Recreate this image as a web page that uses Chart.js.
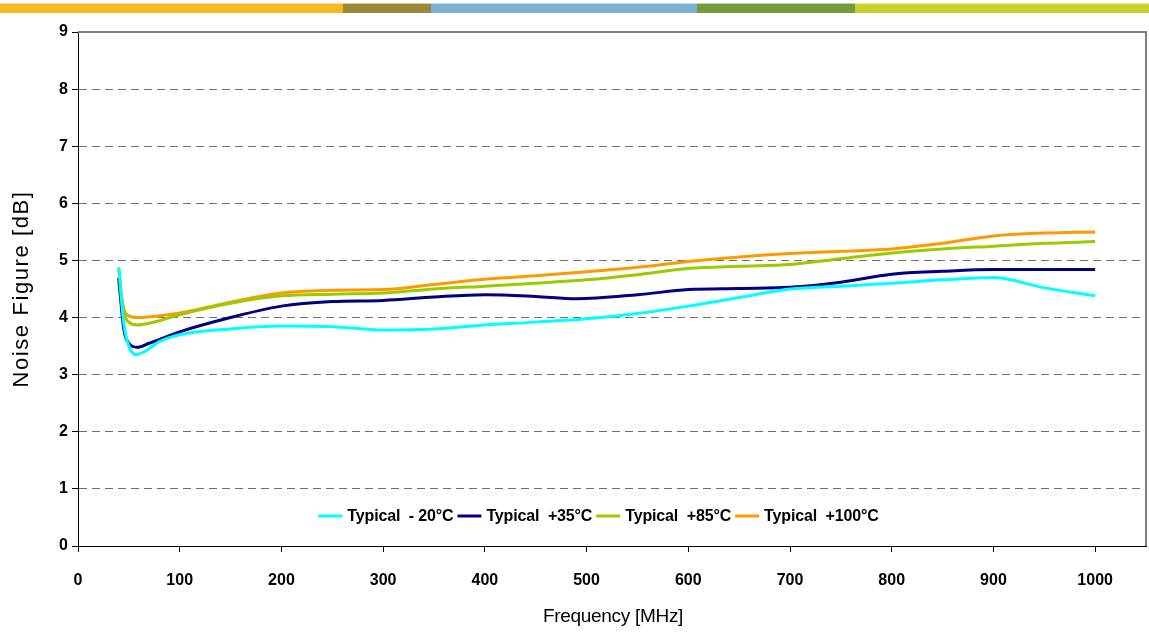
<!DOCTYPE html>
<html>
<head>
<meta charset="utf-8">
<script src="https://cdn.jsdelivr.net/npm/chart.js@4.4.0/dist/chart.umd.min.js"></script>
<style>
html,body{margin:0;padding:0;background:#fff;}
#wrap{position:relative;width:1149px;height:636px;}
</style>
</head>
<body>
<div id="wrap"><canvas id="c" width="1149" height="636"></canvas></div>
<script>
const seriesLabels = ["Typical  - 20\u00B0C", "Typical  +35\u00B0C", "Typical  +85\u00B0C", "Typical  +100\u00B0C"];
const seriesColors = ["#00FFFF", "#000080", "#99CC00", "#FF9900"];

const freqM20 = [40,45,50,57,65,80,100,150,200,250,300,350,400,450,500,550,600,650,700,750,800,850,900,950,1000];
const nfM20   = [4.87,3.9,3.5,3.35,3.4,3.58,3.7,3.8,3.85,3.84,3.78,3.8,3.87,3.92,3.98,4.07,4.2,4.35,4.5,4.55,4.6,4.66,4.7,4.52,4.38];

const freqP35 = [40,45,50,58,70,100,150,200,250,300,350,400,450,490,550,600,650,700,750,800,850,900,1000];
const nfP35   = [4.7,3.8,3.55,3.48,3.55,3.75,4.0,4.2,4.28,4.3,4.36,4.4,4.37,4.33,4.4,4.49,4.51,4.53,4.62,4.76,4.81,4.84,4.84];

const freqP85 = [40,45,50,58,70,100,150,200,250,300,350,400,450,500,550,600,650,700,750,800,850,900,950,1000];
const nfP85   = [4.88,4.1,3.92,3.87,3.9,4.05,4.25,4.38,4.41,4.43,4.5,4.55,4.6,4.66,4.75,4.86,4.9,4.93,5.03,5.13,5.2,5.25,5.3,5.33];

const freqP100 = [40,45,50,60,75,100,150,200,250,300,350,400,450,500,550,600,650,700,750,800,850,900,950,1000];
const nfP100   = [4.62,4.15,4.03,4.0,4.02,4.08,4.27,4.43,4.48,4.49,4.58,4.67,4.73,4.8,4.88,4.98,5.06,5.12,5.16,5.2,5.3,5.43,5.48,5.5];

const xTitle = "Frequency [MHz]";
const yTitle = "Noise Figure [dB]";
const barSegments = [[0,343,"#F8B71E"],[343,431,"#9A8838"],[431,697,"#7DB1DA"],[697,855,"#749A3D"],[855,1149,"#C8D22E"]];

function pts(xs, ys){ return xs.map((x,i)=>({x:x, y:ys[i]})); }
const allX = [freqM20, freqP35, freqP85, freqP100];
const allY = [nfM20, nfP35, nfP85, nfP100];

const datasets = seriesLabels.map((l,i)=>({
  label: l,
  data: pts(allX[i], allY[i]),
  borderColor: seriesColors[i],
  backgroundColor: seriesColors[i],
  borderWidth: 3,
  pointRadius: 0,
  cubicInterpolationMode: 'monotone',
  fill: false
}));

const decor = {
  id: 'decor',
  beforeDraw(chart){
    const ctx = chart.ctx;
    ctx.save();
    ctx.fillStyle = '#fff';
    ctx.fillRect(0,0,chart.width,chart.height);
    barSegments.forEach(s=>{
      ctx.fillStyle = s[2];
      ctx.fillRect(s[0],4,s[1]-s[0],9);
      ctx.globalAlpha = 0.45;
      ctx.fillRect(s[0],3,s[1]-s[0],1);
      ctx.globalAlpha = 1;
    });
    ctx.restore();
  },
  afterDraw(chart){
    const ctx = chart.ctx;
    const a = chart.chartArea;
    ctx.save();
    ctx.strokeStyle = '#808080';
    ctx.lineWidth = 2;
    ctx.beginPath();
    ctx.moveTo(a.left, a.top);
    ctx.lineTo(a.right, a.top);
    ctx.lineTo(a.right, a.bottom);
    ctx.stroke();
    ctx.fillStyle = '#000';
    ctx.textAlign = 'center';
    ctx.textBaseline = 'middle';
    ctx.font = '19px "Liberation Sans", Arial, sans-serif';
    ctx.letterSpacing = '-0.3px';
    ctx.fillText(xTitle, 613, 617);
    ctx.translate(22, (a.top + a.bottom)/2);
    ctx.rotate(-Math.PI/2);
    ctx.font = '22px "Liberation Sans", Arial, sans-serif';
    ctx.letterSpacing = '1.6px';
    ctx.fillText(yTitle, 0, 0);
    ctx.restore();
    ctx.save();
    ctx.font = 'bold 16px "Liberation Sans", Arial, sans-serif';
    ctx.letterSpacing = '-0.15px';
    ctx.textBaseline = 'middle';
    ctx.textAlign = 'left';
    const lineW = 24, gap1 = 5, gap2 = 4;
    const widths = chart.data.datasets.map(d=>ctx.measureText(d.label).width);
    let total = 0;
    widths.forEach(w=>{ total += lineW + gap1 + w + gap2; });
    total -= gap2;
    let x = 598.5 - total/2;
    const y = 516;
    chart.data.datasets.forEach((d,i)=>{
      ctx.strokeStyle = d.borderColor;
      ctx.lineWidth = 3;
      ctx.beginPath();
      ctx.moveTo(x, y);
      ctx.lineTo(x + lineW, y);
      ctx.stroke();
      x += lineW + gap1;
      ctx.fillStyle = '#000';
      ctx.fillText(d.label, x, y + 1);
      x += widths[i] + gap2;
    });
    ctx.restore();
  }
};

new Chart(document.getElementById('c'), {
  type: 'line',
  data: { datasets: datasets },
  options: {
    responsive: false,
    animation: false,
    devicePixelRatio: 1,
    layout: { padding: { left: 0, top: 32, right: 3, bottom: 0 } },
    plugins: { legend: { display: false }, tooltip: { enabled: false } },
    scales: {
      x: {
        type: 'linear',
        min: 0, max: 1050,
        afterFit(s){ s.height = 90; },
        ticks: { stepSize: 100, includeBounds: false, color: '#000', padding: 19, maxRotation: 0,
                 callback: v => String(v),
                 font: { family: '"Liberation Sans", Arial, sans-serif', size: 16, weight: 'bold' } },
        grid: { drawOnChartArea: false, drawTicks: true, tickLength: 6, tickColor: '#000' },
        border: { display: true, color: '#000', width: 1 }
      },
      y: {
        min: 0, max: 9,
        afterFit(s){ s.width = 78; },
        ticks: { stepSize: 1, color: '#000', padding: 4,
                 font: { family: '"Liberation Sans", Arial, sans-serif', size: 16, weight: 'bold' } },
        grid: { color: '#707070', lineWidth: 1, tickLength: 6, tickColor: '#000', tickBorderDash: [] },
        border: { display: true, color: '#000', width: 1, dash: [8,5] }
      }
    }
  },
  plugins: [decor]
});
</script>
</body>
</html>
